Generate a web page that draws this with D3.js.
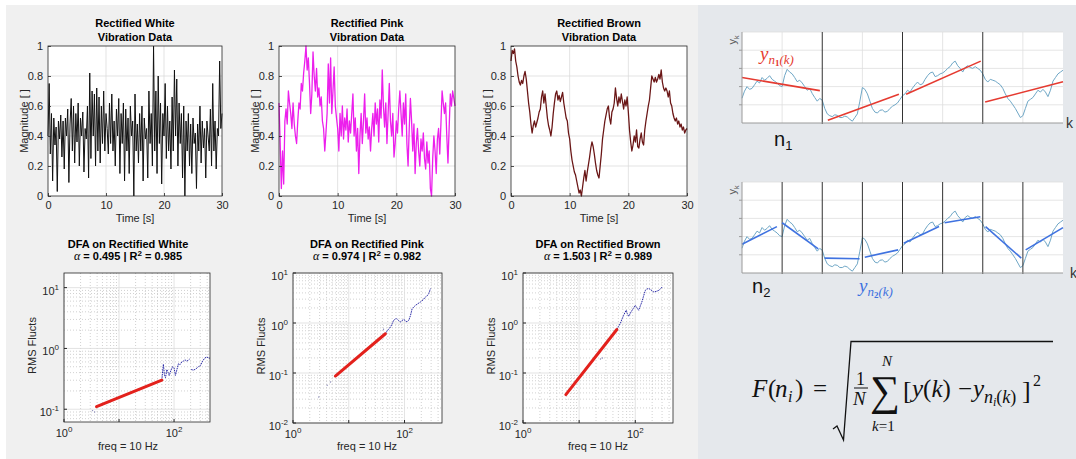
<!DOCTYPE html>
<html>
<head>
<meta charset="utf-8">
<script src="https://cdn.jsdelivr.net/npm/d3@7"></script>
<style>
  body { margin: 0; background: #fff; }
  svg { display: block; font-family: "Liberation Sans", Arial, sans-serif; }
</style>
</head>
<body>
<svg id="fig" width="1076" height="459"></svg>
<script>
// ---- data ----
const timeStep = 0.2;
const timeTicks = [0, 10, 20, 30];
const magTicks = [0, 0.2, 0.4, 0.6, 0.8, 1];

const whiteVib = [
  0.40, 0.75, 0.28, 0.55, 0.10, 0.52, 0.34, 0.46, 0.03, 0.50,
  0.38, 0.54, 0.26, 0.50, 0.18, 0.52, 0.40, 0.58, 0.09, 0.48,
  0.65, 0.30, 0.60, 0.22, 0.55, 0.36, 0.62, 0.20, 0.52, 0.40,
  0.56, 0.16, 0.45, 0.38, 0.60, 0.12, 0.82, 0.25, 0.70, 0.40,
  0.68, 0.20, 0.72, 0.30, 0.66, 0.22, 0.60, 0.35, 0.70, 0.30,
  0.55, 0.45, 0.28, 0.62, 0.35, 0.68, 0.30, 0.50, 0.20, 0.58,
  0.40, 0.65, 0.15, 0.55, 0.35, 0.62, 0.10, 0.58, 0.30, 0.52,
  0.15, 0.60, 0.40, 0.50, 0.00, 0.68, 0.30, 0.48, 0.22, 0.55,
  0.30, 0.60, 0.10, 0.52, 0.38, 0.45, 0.12, 0.70, 0.35, 0.55,
  0.20, 1.00, 0.30, 0.70, 0.15, 0.80, 0.35, 0.62, 0.08, 0.55,
  0.40, 0.75, 0.25, 0.60, 0.30, 0.50, 0.18, 0.66, 0.30, 0.84,
  0.40, 0.78, 0.20, 0.62, 0.35, 0.55, 0.12, 0.60, 0.00, 0.50,
  0.30, 0.55, 0.20, 0.48, 0.15, 0.52, 0.35, 0.42, 0.05, 0.48,
  0.30, 0.60, 0.22, 0.50, 0.32, 0.45, 0.12, 0.50, 0.40, 0.30,
  0.58, 0.20, 0.75, 0.30, 0.50, 0.18, 0.45, 0.40, 0.90, 0.45,
  0.55
];

const pinkVib = [
  0.62, 0.35, 0.05, 0.30, 0.08, 0.50, 0.58, 0.48, 0.70, 0.62,
  0.55, 0.45, 0.62, 0.48, 0.40, 0.35, 0.50, 0.62, 0.58, 0.75,
  0.70, 0.82, 0.90, 1.00, 0.84, 0.92, 0.75, 0.55, 0.68, 0.96,
  0.80, 0.70, 0.85, 0.66, 0.72, 0.60, 0.66, 0.50, 0.45, 0.30,
  0.42, 0.55, 0.88, 0.62, 0.92, 0.55, 0.70, 0.86, 0.60, 0.52,
  0.45, 0.30, 0.55, 0.40, 0.60, 0.38, 0.52, 0.44, 0.58, 0.36,
  0.50, 0.42, 0.55, 0.68, 0.40, 0.52, 0.30, 0.45, 0.15, 0.40,
  0.55, 0.35, 0.50, 0.68, 0.42, 0.52, 0.38, 0.46, 0.30, 0.45,
  0.55, 0.40, 0.62, 0.48, 0.58, 0.36, 0.64, 0.52, 0.84, 0.60,
  0.46, 0.62, 0.35, 0.55, 0.75, 0.50, 0.40, 0.55, 0.26, 0.35,
  0.50, 0.42, 0.58, 0.70, 0.55, 0.40, 0.62, 0.48, 0.68, 0.35,
  0.20, 0.45, 0.65, 0.50, 0.30, 0.48, 0.15, 0.35, 0.45, 0.30,
  0.20, 0.38, 0.30, 0.42, 0.25, 0.18, 0.36, 0.22, 0.30, 0.05,
  0.00, 0.25, 0.40, 0.30, 0.15, 0.38, 0.45, 0.28, 0.48, 0.70,
  0.62, 0.55, 0.62, 0.40, 0.22, 0.45, 0.68, 0.60, 0.70, 0.65,
  0.60
];

const brownVib = [
  0.90, 0.97, 0.95, 0.98, 0.90, 0.86, 0.80, 0.76, 0.74, 0.77,
  0.75, 0.80, 0.83, 0.78, 0.70, 0.62, 0.56, 0.48, 0.42, 0.47,
  0.50, 0.46, 0.49, 0.52, 0.56, 0.58, 0.66, 0.70, 0.62, 0.68,
  0.60, 0.52, 0.47, 0.44, 0.40, 0.46, 0.55, 0.62, 0.68, 0.70,
  0.64, 0.67, 0.63, 0.66, 0.69, 0.62, 0.57, 0.52, 0.50, 0.42,
  0.38, 0.30, 0.24, 0.20, 0.16, 0.14, 0.10, 0.06, 0.02, 0.04,
  0.00, 0.06, 0.12, 0.17, 0.10, 0.16, 0.21, 0.26, 0.32, 0.36,
  0.33, 0.28, 0.22, 0.17, 0.14, 0.12, 0.20, 0.28, 0.38, 0.44,
  0.50, 0.54, 0.58, 0.60, 0.52, 0.48, 0.56, 0.58, 0.62, 0.72,
  0.65, 0.60, 0.66, 0.62, 0.68, 0.63, 0.58, 0.64, 0.60, 0.66,
  0.56, 0.44, 0.36, 0.30, 0.34, 0.40, 0.36, 0.44, 0.33, 0.32,
  0.38, 0.42, 0.36, 0.34, 0.44, 0.50, 0.55, 0.60, 0.64, 0.72,
  0.80, 0.78, 0.76, 0.79, 0.76, 0.78, 0.81, 0.78, 0.84, 0.76,
  0.72, 0.70, 0.72, 0.70, 0.66, 0.70, 0.62, 0.60, 0.55, 0.52,
  0.50, 0.52, 0.48, 0.50, 0.46, 0.48, 0.44, 0.46, 0.42, 0.44,
  0.45
];

// DFA: [window, rms] pairs, null = gap in the trace
const dfaAlpha = [0.495, 0.974, 1.503];
const dfaR2 = [0.985, 0.982, 0.989];

const dfaWhiteRms = [
  [60, 0.30], [62, 0.42], [64, 0.55], [67, 0.36], [70, 0.33], [74, 0.45], [78, 0.40],
  [82, 0.36], [88, 0.44], [94, 0.50], [100, 0.48], [106, 0.36], [112, 0.44], [120, 0.56],
  [128, 0.54], [138, 0.60], [148, 0.62], [158, 0.65], [170, 0.62], [182, 0.64], [192, 0.67],
  null,
  [205, 0.45], [225, 0.44], [250, 0.46], [275, 0.50], [300, 0.52], [330, 0.62], [364, 0.70],
  [395, 0.72], [425, 0.70], [450, 0.69]
];
const dfaWhiteFit = [[3.9, 0.11], [60, 0.30]];
const dfaWhiteDots = [[3.3, 0.095], [3.6, 0.09]];

const dfaPinkRms = [
  [45, 0.61], [50, 0.72], [56, 0.83], [60, 0.97], [64, 1.13], [68, 1.2], [73, 1.22],
  [78, 1.12], [84, 1.05], [90, 1.12], [97, 1.18], [104, 1.1], [111, 1.05], [120, 1.15],
  [128, 1.42], [137, 1.94], [147, 2.1], [157, 2.25], [175, 2.45], [193, 2.63], [215, 2.9],
  [237, 3.31], [255, 3.5], [272, 3.87], [292, 4.87]
];
const dfaPinkFit = [[5.75, 0.087], [45.4, 0.61]];
const dfaPinkDots = [[2.9, 0.033], [4.1, 0.057], [4.7, 0.066], [42, 0.75]];

const dfaBrownRms = [
  [47, 0.74], [50, 0.85], [54, 0.97], [58, 1.2], [62, 1.42], [66, 1.65], [69, 1.8],
  [72, 1.55], [76, 1.36], [80, 1.5], [84, 1.66], [92, 1.95], [100, 2.25], [107, 2.0],
  [115, 1.8], [123, 2.2], [131, 2.63], [140, 3.4], [151, 4.5], [162, 4.8], [174, 4.9],
  [190, 4.6], [214, 4.17], [238, 4.3], [263, 4.5], [285, 4.9], [302, 5.25]
];
const dfaBrownFit = [[5.8, 0.037], [47, 0.74]];
const dfaBrownDots = [[24, 0.19], [26, 0.2]];

// right-hand sketch: integrated signal y_k sampled every 1/16 of a box
const kStep = 1 / 16;
const ySignal = [
  1.36, 1.75, 2.0, 1.85, 1.9, 2.1, 2.3, 2.2, 2.5, 2.35, 2.45, 2.6, 2.4, 2.3, 2.2, 2.05,
  2.0, 2.6, 2.95, 2.8, 2.7, 2.5, 2.27, 2.35, 2.2, 2.0, 1.8, 1.9, 1.62, 1.4, 1.2, 1.35,
  1.25, 0.8, 0.5, 0.4, 0.35, 0.45, 0.42, 0.3, 0.3, 0.38, 0.33, 0.2, 0.1, 0.3, 0.5, 1.2,
  1.95, 1.85, 1.6, 1.2, 0.8, 0.6, 0.55, 0.7, 0.72, 0.6, 0.64, 0.8, 0.92, 1.0, 1.1, 1.3,
  1.5, 1.6, 1.8, 1.7, 1.92, 2.1, 2.25, 2.1, 2.15, 2.4, 2.6, 2.75, 2.8, 2.55, 2.6, 2.7,
  2.75, 2.85, 3.0, 3.1, 3.3, 3.4, 3.15, 3.0, 2.8, 3.05, 3.15, 3.05, 3.0, 3.1, 3.0, 2.9,
  2.7, 2.4, 2.25, 2.4, 2.35, 2.3, 2.2, 2.1, 1.9, 1.6, 1.35, 1.2, 1.0, 0.8, 0.55, 0.3,
  0.4, 0.8, 1.2, 1.3, 1.4, 1.6, 1.8, 1.7, 1.85, 1.7, 1.45, 1.8, 2.3, 2.5, 2.7, 2.8,
  2.9
];
// local trends [kStart, yStart, kEnd, yEnd]
const trendsN1 = [[0, 2.5, 1.94, 1.78], [2.14, 0.15, 3.91, 1.58], [4.09, 1.58, 5.95, 3.4], [6.06, 1.15, 8, 2.27]];
const trendsN2 = [
  [0, 1.58, 0.87, 2.55], [1.0, 2.76, 1.9, 1.33], [2.06, 0.82, 2.93, 0.78], [3.06, 0.87, 3.89, 1.27],
  [4.03, 1.64, 4.91, 2.55], [5.05, 2.76, 5.94, 3.09], [6.07, 2.55, 6.96, 0.82], [7.07, 1.27, 8, 2.49]
];
const boxesN1 = [2, 4, 6];
const boxesN2 = [1, 2, 3, 4, 5, 6, 7];

// ---- drawing ----
const svg = d3.select("#fig");
const ink = "#262626";
const gridColor = "#dcdcdc";

svg.append("rect").attr("width", 1076).attr("height", 459).attr("fill", "#fff");
svg.append("rect").attr("x", 6).attr("y", 5).attr("width", 692).attr("height", 454).attr("fill", "#f0f0f0");
svg.append("rect").attr("x", 698).attr("y", 5).attr("width", 378).attr("height", 454).attr("fill", "#e5e8ec");

function styleAxis(a) {
  a.attr("font-family", null).attr("font-size", 11);
  a.select(".domain").remove();
  a.selectAll(".tick line").attr("stroke", ink).attr("stroke-width", 0.8);
  a.selectAll(".tick text").attr("fill", ink);
}

function drawTimePlot(p) {
  const [x0, y0, x1, y1] = p.box;
  const x = d3.scaleLinear().domain([0, 30]).range([x0, x1]);
  const y = d3.scaleLinear().domain([0, 1]).range([y1, y0]);
  const g = svg.append("g");

  g.append("rect").attr("x", x0).attr("y", y0).attr("width", x1 - x0).attr("height", y1 - y0).attr("fill", "#fff");

  g.selectAll("line.gx").data(timeTicks.slice(1, -1)).join("line").attr("class", "gx")
    .attr("x1", d => x(d)).attr("x2", d => x(d)).attr("y1", y0).attr("y2", y1)
    .attr("stroke", gridColor).attr("stroke-width", 0.8);
  g.selectAll("line.gy").data(magTicks.slice(1, -1)).join("line").attr("class", "gy")
    .attr("y1", d => y(d)).attr("y2", d => y(d)).attr("x1", x0).attr("x2", x1)
    .attr("stroke", gridColor).attr("stroke-width", 0.8);

  const line = d3.line().x((d, i) => x(i * timeStep)).y(d => y(d));
  g.append("path").datum(p.values).attr("d", line)
    .attr("fill", "none").attr("stroke", p.color).attr("stroke-width", p.width).attr("stroke-linejoin", "round");

  const xa = g.append("g").attr("transform", `translate(0,${y1})`)
    .call(d3.axisBottom(x).tickValues(timeTicks).tickSize(-3).tickPadding(5));
  const ya = g.append("g").attr("transform", `translate(${x0},0)`)
    .call(d3.axisLeft(y).tickValues(magTicks).tickSize(-3).tickPadding(5).tickFormat(d3.format("")));
  styleAxis(xa);
  styleAxis(ya);

  g.append("rect").attr("x", x0).attr("y", y0).attr("width", x1 - x0).attr("height", y1 - y0)
    .attr("fill", "none").attr("stroke", ink).attr("stroke-width", 0.8);

  const cx = (x0 + x1) / 2;
  p.title.forEach((t, i) => {
    g.append("text").attr("x", cx).attr("y", 26.5 + i * 14).attr("text-anchor", "middle")
      .attr("font-size", 11).attr("font-weight", "bold").attr("fill", "#000").text(t);
  });
  g.append("text").attr("x", cx).attr("y", 222).attr("text-anchor", "middle")
    .attr("font-size", 11).attr("fill", ink).text("Time [s]");
  g.append("text").attr("transform", `translate(${x0 - 20},${(y0 + y1) / 2}) rotate(-90)`)
    .attr("text-anchor", "middle").attr("font-size", 11).attr("fill", ink).text("Magnitude [ ]");
}

function powText(sel, exp) {
  sel.append("tspan").text("10");
  sel.append("tspan").attr("dy", -5).attr("font-size", 8).text(exp);
}

function drawDfaPlot(p) {
  const [x0, y0, x1, y1] = p.box;
  const x = d3.scaleLog().domain(p.xDomain).range([x0, x1]);
  const y = d3.scaleLog().domain(p.yDomain).range([y1, y0]);
  const isDecade = v => Math.abs(Math.log10(v) - Math.round(Math.log10(v))) < 1e-9;
  const g = svg.append("g");

  g.append("rect").attr("x", x0).attr("y", y0).attr("width", x1 - x0).attr("height", y1 - y0).attr("fill", "#fff");

  const xt = x.ticks(), yt = y.ticks();
  g.selectAll("line.mx").data(xt.filter(v => !isDecade(v))).join("line").attr("class", "mx")
    .attr("x1", d => x(d)).attr("x2", d => x(d)).attr("y1", y0).attr("y2", y1)
    .attr("stroke", "#bdbdbd").attr("stroke-width", 0.7).attr("stroke-dasharray", "1,2");
  g.selectAll("line.my").data(yt.filter(v => !isDecade(v))).join("line").attr("class", "my")
    .attr("y1", d => y(d)).attr("y2", d => y(d)).attr("x1", x0).attr("x2", x1)
    .attr("stroke", "#bdbdbd").attr("stroke-width", 0.7).attr("stroke-dasharray", "1,2");
  g.selectAll("line.jx").data(xt.filter(isDecade)).join("line").attr("class", "jx")
    .attr("x1", d => x(d)).attr("x2", d => x(d)).attr("y1", y0).attr("y2", y1)
    .attr("stroke", gridColor).attr("stroke-width", 0.8);
  g.selectAll("line.jy").data(yt.filter(isDecade)).join("line").attr("class", "jy")
    .attr("y1", d => y(d)).attr("y2", d => y(d)).attr("x1", x0).attr("x2", x1)
    .attr("stroke", gridColor).attr("stroke-width", 0.8);

  // scattered small-window points
  g.selectAll("circle").data(p.dots).join("circle")
    .attr("cx", d => x(d[0])).attr("cy", d => y(d[1])).attr("r", 0.7).attr("fill", "#8a8ab8");

  const line = d3.line().defined(d => d !== null).x(d => x(d[0])).y(d => y(d[1]));
  g.append("path").datum(p.rms).attr("d", line)
    .attr("fill", "none").attr("stroke", "#2c2ca8").attr("stroke-width", 1).attr("stroke-dasharray", "1.6,0.8");
  g.append("path").datum(p.fit).attr("d", line)
    .attr("fill", "none").attr("stroke", "#e3211c").attr("stroke-width", 3).attr("stroke-linecap", "round");

  // decade ticks
  g.selectAll("line.tx").data(xt.filter(isDecade)).join("line").attr("class", "tx")
    .attr("x1", d => x(d)).attr("x2", d => x(d)).attr("y1", y1).attr("y2", y1 - 3).attr("stroke", ink);
  g.selectAll("line.ty").data(yt.filter(isDecade)).join("line").attr("class", "ty")
    .attr("y1", d => y(d)).attr("y2", d => y(d)).attr("x1", x0).attr("x2", x0 + 3).attr("stroke", ink);

  g.append("rect").attr("x", x0).attr("y", y0).attr("width", x1 - x0).attr("height", y1 - y0)
    .attr("fill", "none").attr("stroke", ink).attr("stroke-width", 0.8);

  p.xLabels.forEach(v => {
    const t = g.append("text").attr("x", x(v)).attr("y", y1 + 15).attr("text-anchor", "middle")
      .attr("font-size", 11).attr("fill", ink);
    powText(t, String(Math.round(Math.log10(v))));
  });
  yt.filter(isDecade).forEach(v => {
    const t = g.append("text").attr("x", x0 - 5).attr("y", y(v) + 7).attr("text-anchor", "end")
      .attr("font-size", 11).attr("fill", ink);
    powText(t, String(Math.round(Math.log10(v))));
  });

  g.append("text").attr("x", p.titleX).attr("y", 247.5).attr("text-anchor", "middle")
    .attr("font-size", 11).attr("font-weight", "bold").attr("fill", "#000").text("DFA on Rectified " + p.name);
  const t2 = g.append("text").attr("x", p.titleX).attr("y", 260).attr("text-anchor", "middle")
    .attr("font-size", 11).attr("font-weight", "bold").attr("fill", "#000");
  t2.append("tspan").attr("font-family", "Liberation Serif, serif").attr("font-style", "italic")
    .attr("font-weight", "normal").attr("font-size", 12).text("α");
  t2.append("tspan").text(" = " + p.alpha.toFixed(3) + " | R");
  t2.append("tspan").attr("dy", -4).attr("font-size", 8).text("2");
  t2.append("tspan").attr("dy", 4).text(" = " + p.r2.toFixed(3));

  g.append("text").attr("x", p.titleX).attr("y", 449.5).attr("text-anchor", "middle")
    .attr("font-size", 11).attr("fill", ink).text("freq = 10 Hz");
  g.append("text").attr("transform", `translate(${x0 - 28},${(y0 + y1) / 2 - 2}) rotate(-90)`)
    .attr("text-anchor", "middle").attr("font-size", 11).attr("fill", ink).text("RMS Flucts");
}

function drawSketch(p) {
  const x = d3.scaleLinear().domain([0, 8]).range([742, 1063]);
  const y = d3.scaleLinear().domain([0, 5]).range(p.yRange);
  const g = svg.append("g");
  const [yb, yt] = p.yRange;

  g.append("rect").attr("x", x(0)).attr("y", yt).attr("width", x(8) - x(0)).attr("height", yb - yt).attr("fill", "#fff");
  g.selectAll("line.h").data([1, 2, 3, 4, 5]).join("line").attr("class", "h")
    .attr("x1", x(0)).attr("x2", x(8)).attr("y1", d => y(d)).attr("y2", d => y(d))
    .attr("stroke", "#dedede").attr("stroke-width", 0.8);
  g.selectAll("line.v").data(p.midlines).join("line").attr("class", "v")
    .attr("x1", d => x(d)).attr("x2", d => x(d)).attr("y1", yt).attr("y2", yb)
    .attr("stroke", "#dedede").attr("stroke-width", 0.8);

  g.append("path").datum(ySignal)
    .attr("d", d3.line().x((d, i) => x(i * kStep)).y(d => y(d)))
    .attr("fill", "none").attr("stroke", "#6fa7c6").attr("stroke-width", 1);

  g.selectAll("line.b").data(p.boxes).join("line").attr("class", "b")
    .attr("x1", d => x(d)).attr("x2", d => x(d)).attr("y1", yt).attr("y2", yb + 1)
    .attr("stroke", "#333").attr("stroke-width", 1);

  g.selectAll("line.f").data(p.trends).join("line").attr("class", "f")
    .attr("x1", d => x(d[0])).attr("y1", d => y(d[1])).attr("x2", d => x(d[2])).attr("y2", d => y(d[3]))
    .attr("stroke", p.trendColor).attr("stroke-width", 1.6);

  // axes
  g.append("line").attr("x1", x(0)).attr("x2", x(0)).attr("y1", yt).attr("y2", yb).attr("stroke", "#9a9a9a");
  g.append("line").attr("x1", x(0)).attr("x2", x(8)).attr("y1", yb).attr("y2", yb).attr("stroke", "#9a9a9a");
  g.selectAll("line.yt").data([1, 2, 3, 4]).join("line").attr("class", "yt")
    .attr("x1", x(0) - 3).attr("x2", x(0)).attr("y1", d => y(d)).attr("y2", d => y(d)).attr("stroke", "#9a9a9a");

  const yl = g.append("text").attr("transform", `translate(${x(0) - 6},${yt + 8}) rotate(-90)`)
    .attr("text-anchor", "middle").attr("font-size", 11).attr("fill", "#555");
  yl.append("tspan").text("y");
  yl.append("tspan").attr("dy", 3).attr("font-size", 7).text("k");
  g.append("text").attr("x", p.kX).attr("y", yb + 5).attr("font-size", 14).attr("fill", "#333").text("k");

  const nl = g.append("text").attr("x", p.nPos[0]).attr("y", p.nPos[1]).attr("font-size", 20).attr("fill", "#111");
  nl.append("tspan").text("n");
  nl.append("tspan").attr("dy", 4).attr("font-size", 13).text(p.nSub);

  const tl = g.append("text").attr("x", p.labelPos[0]).attr("y", p.labelPos[1])
    .attr("font-family", "Liberation Serif, serif").attr("font-style", "italic")
    .attr("font-size", 19).attr("fill", p.trendColor);
  tl.append("tspan").text("y");
  tl.append("tspan").attr("dy", 4).attr("font-size", 13).text("n");
  tl.append("tspan").attr("dy", 2).attr("font-size", 9).attr("font-weight", "bold").attr("font-style", "normal").text(p.nSub);
  tl.append("tspan").attr("dy", -2).attr("font-size", 13).text("(k)");
}

[
  { title: ["Rectified White", "Vibration Data"], values: whiteVib, color: "#111", width: 1, box: [48, 46, 222, 196] },
  { title: ["Rectified Pink", "Vibration Data"], values: pinkVib, color: "#ec1fec", width: 1.3, box: [279, 46, 455, 196] },
  { title: ["Rectified Brown", "Vibration Data"], values: brownVib, color: "#6a1616", width: 1.3, box: [511, 46, 687, 196] }
].forEach(drawTimePlot);

[
  { name: "White", rms: dfaWhiteRms, fit: dfaWhiteFit, dots: dfaWhiteDots, alpha: dfaAlpha[0], r2: dfaR2[0],
    box: [64, 273, 210, 422], xDomain: [1, 450], yDomain: [0.0617, 17.4], xLabels: [1, 100], titleX: 128 },
  { name: "Pink", rms: dfaPinkRms, fit: dfaPinkFit, dots: dfaPinkDots, alpha: dfaAlpha[1], r2: dfaR2[1],
    box: [293, 273, 442, 423], xDomain: [1, 470], yDomain: [0.01, 10], xLabels: [1, 100], titleX: 367 },
  { name: "Brown", rms: dfaBrownRms, fit: dfaBrownFit, dots: dfaBrownDots, alpha: dfaAlpha[2], r2: dfaR2[2],
    box: [523, 273, 673, 423], xDomain: [1, 470], yDomain: [0.01, 10], xLabels: [1, 100], titleX: 598 }
].forEach(drawDfaPlot);

drawSketch({ yRange: [123, 32], boxes: boxesN1, midlines: [1, 3, 5, 7], trends: trendsN1, trendColor: "#e53a30",
  nSub: "1", nPos: [774, 146], labelPos: [760, 60], kX: 1066 });
drawSketch({ yRange: [273, 182], boxes: boxesN2, midlines: [], trends: trendsN2, trendColor: "#3f72e0",
  nSub: "2", nPos: [752, 293], labelPos: [859, 292], kX: 1070 });

// DFA fluctuation formula
const fm = svg.append("g").attr("font-family", "Liberation Serif, serif").attr("fill", "#111");
const serif = (x, y, size, txt, italic) => fm.append("text").attr("x", x).attr("y", y).attr("font-size", size)
  .attr("font-style", italic ? "italic" : "normal").text(txt);
serif(752, 397, 25, "F", true);
serif(768, 397, 25, "(", false);
serif(775, 397, 25, "n", true);
serif(788, 402, 16, "i", true);
serif(795, 397, 25, ")", false);
serif(813, 397, 25, "=", false);
fm.append("path").attr("d", "M833,429 L837,426 L843.5,440 L851,341.5 L1053,341.5")
  .attr("fill", "none").attr("stroke", "#111").attr("stroke-width", 1.3);
serif(856, 385, 18, "1", false);
fm.append("line").attr("x1", 854).attr("x2", 868).attr("y1", 388).attr("y2", 388).attr("stroke", "#111").attr("stroke-width", 1);
serif(853, 405, 19, "N", true);
serif(870, 405, 42, "∑", false);
serif(882, 366, 15, "N", true);
const kl = serif(872, 431, 15, "k", true);
kl.append("tspan").attr("font-style", "normal").text("=1");
serif(903, 399, 26, "[", false);
const yk = serif(912, 397, 25, "y", true);
yk.append("tspan").attr("font-style", "normal").text("(");
yk.append("tspan").text("k");
yk.append("tspan").attr("font-style", "normal").text(")");
serif(958, 397, 25, "−", false);
serif(973, 397, 25, "y", true);
const sub = serif(984, 403, 18, "n", true);
sub.append("tspan").attr("font-size", 12).attr("dy", 3).text("i");
sub.append("tspan").attr("font-size", 18).attr("dy", -3).attr("font-style", "normal").text("(");
sub.append("tspan").attr("font-size", 18).text("k");
sub.append("tspan").attr("font-size", 18).attr("font-style", "normal").text(")");
serif(1022, 399, 26, "]", false);
serif(1033, 386, 16, "2", false);
</script>
</body>
</html>
